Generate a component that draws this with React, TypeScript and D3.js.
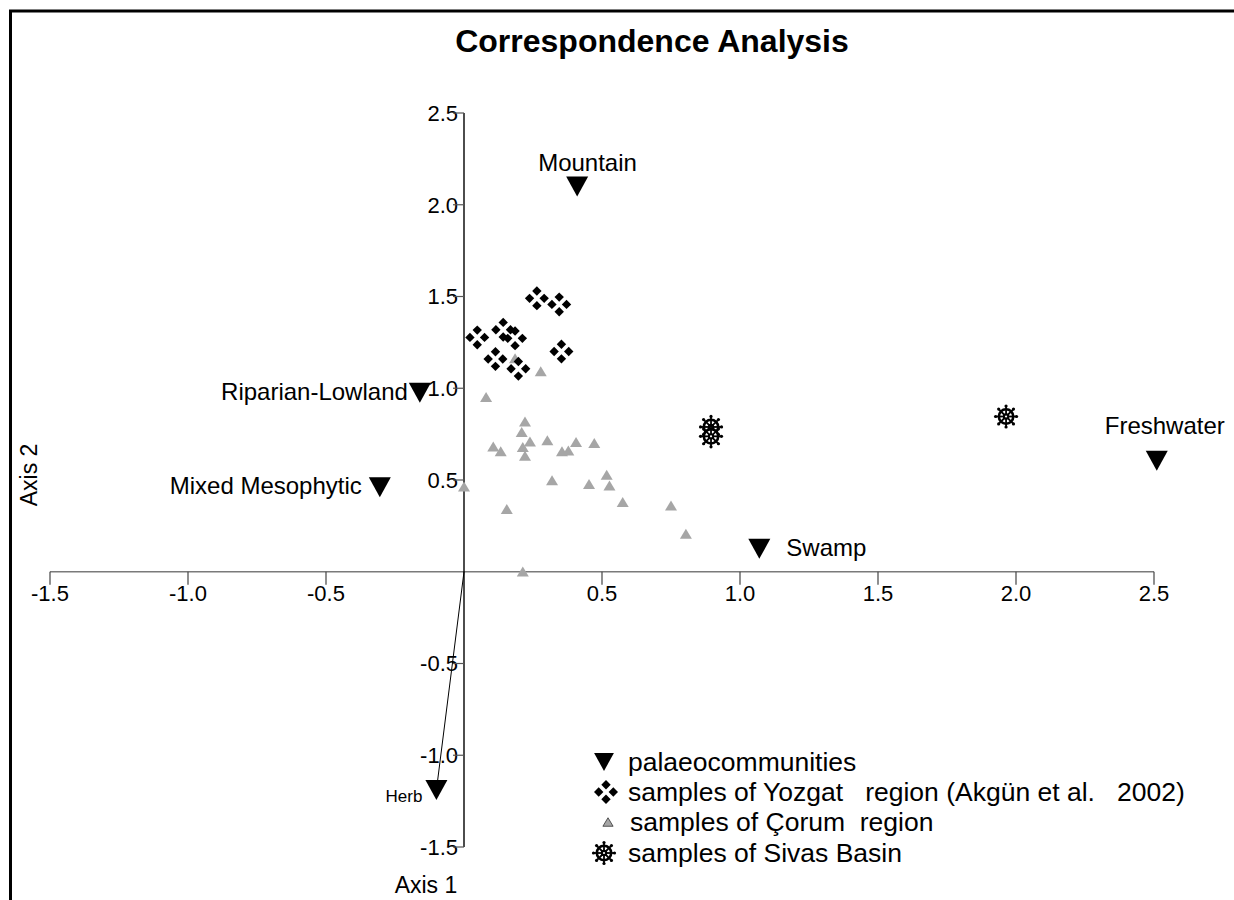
import React from "react";
import * as d3 from "d3";

// palaeocommunities (downward triangles)
const palaeoNames = ["Mountain", "Riparian-Lowland", "Mixed Mesophytic", "Swamp", "Freshwater", "Herb"];
const palaeoAxis1 = [0.41, -0.16, -0.305, 1.07, 2.51, -0.1];
const palaeoAxis2 = [2.1, 0.975, 0.46, 0.125, 0.605, -1.19];

// samples of Yozgat region
const yozgatAxis1 = [0.264, 0.345, 0.048, 0.142, 0.185, 0.114, 0.197, 0.353];
const yozgatAxis2 = [1.49, 1.457, 1.277, 1.319, 1.272, 1.159, 1.106, 1.2];

// samples of Çorum region
const corumAxis1 = [
  0.08, 0.221, 0.209, 0.106, 0.133, 0.213, 0.239, 0.221, 0.302, 0.355, 0.378, 0.406, 0.472,
  0.0, 0.319, 0.453, 0.517, 0.527, 0.155, 0.575, 0.75, 0.804, 0.213, 0.185, 0.278,
];
const corumAxis2 = [
  0.952, 0.819, 0.761, 0.683, 0.656, 0.68, 0.71, 0.632, 0.716, 0.656, 0.661, 0.707, 0.701,
  0.465, 0.498, 0.478, 0.529, 0.47, 0.342, 0.38, 0.361, 0.207, 0.002, 1.164, 1.092,
];

// samples of Sivas Basin
const sivasAxis1 = [0.895, 0.895, 1.964];
const sivasAxis2 = [0.789, 0.738, 0.846];

const tickValues = [-1.5, -1.0, -0.5, 0.5, 1.0, 1.5, 2.0, 2.5];
const legendLabels = [
  "palaeocommunities",
  "samples of Yozgat   region (Akgün et al.   2002)",
  "samples of Çorum  region",
  "samples of Sivas Basin",
];

// label placement for palaeocommunity names: [dx, dy, anchor, font size]
const labelPlace: [number, number, string, number][] = [
  [-39, -15, "start", 24],
  [-12, 7, "end", 24],
  [-18, 7, "end", 24],
  [27, 7, "start", 24],
  [8, -27, "middle", 24],
  [-14, 12, "end", 17],
];

const W = 1234;
const H = 900;
const font = "'Liberation Sans', Arial, sans-serif";

const x = d3.scaleLinear().domain([-1.5, 2.5]).range([50, 1154]);
const y = d3.scaleLinear().domain([-1.5, 2.5]).range([847, 113]);

const DownTri = ({ cx, cy, s = 1 }: { cx: number; cy: number; s?: number }) => (
  <path
    d={`M${cx - 11 * s},${cy - 10 * s}L${cx + 11 * s},${cy - 10 * s}L${cx},${cy + 10 * s}Z`}
    fill="#000"
  />
);

const Quad = ({ cx, cy }: { cx: number; cy: number }) => {
  const off = 7.3;
  const r = 4.7;
  const pts = [
    [0, -off],
    [-off, 0],
    [off, 0],
    [0, off],
  ];
  return (
    <g>
      {pts.map(([dx, dy], i) => (
        <path
          key={i}
          d={`M${cx + dx},${cy + dy - r}L${cx + dx + r},${cy + dy}L${cx + dx},${cy + dy + r}L${cx + dx - r},${cy + dy}Z`}
          fill="#000"
        />
      ))}
    </g>
  );
};

const UpTri = ({ cx, cy, s = 1, stroke = "none" }: { cx: number; cy: number; s?: number; stroke?: string }) => (
  <path
    d={`M${cx - 6 * s},${cy + 5 * s}L${cx + 6 * s},${cy + 5 * s}L${cx},${cy - 5 * s}Z`}
    fill="#a6a6a6"
    stroke={stroke}
    strokeWidth={0.8}
  />
);

const Wheel = ({ cx, cy }: { cx: number; cy: number }) => {
  const angles = d3.range(8).map((i) => (i * Math.PI) / 4);
  return (
    <g transform={`translate(${cx},${cy})`}>
      <circle r={7.2} fill="#fff" stroke="#000" strokeWidth={2.6} />
      {angles.map((a, i) => (
        <line key={i} x1={0} y1={0} x2={10.5 * Math.cos(a)} y2={10.5 * Math.sin(a)} stroke="#000" strokeWidth={1.8} />
      ))}
      {angles.map((a, i) => (
        <circle key={"k" + i} cx={10.5 * Math.cos(a)} cy={10.5 * Math.sin(a)} r={1.6} fill="#000" />
      ))}
      <circle r={3.2} fill="#000" />
      <circle r={1.1} fill="#fff" />
    </g>
  );
};

export default function App() {
  const x0 = x(0);
  const y0 = y(0);
  const legendY = [762, 792, 822, 853];
  return (
    <svg
      width={W}
      height={H}
      style={{ position: "absolute", left: 0, top: 0, background: "#fff" }}
      fontFamily={font}
    >
      <rect x={0} y={0} width={W} height={H} fill="#fff" />
      <rect x={10.5} y={11} width={W + 20} height={H + 20} fill="none" stroke="#000" strokeWidth={3} />

      <text x={652} y={52} textAnchor="middle" fontSize={32} fontWeight="bold">
        Correspondence Analysis
      </text>

      {/* horizontal axis */}
      <line x1={x(-1.5)} x2={x(2.5)} y1={y0} y2={y0} stroke="#7a7a7a" strokeWidth={1.5} />
      {tickValues.map((t) => (
        <g key={"xt" + t}>
          <line x1={x(t)} x2={x(t)} y1={y0} y2={y0 + 13} stroke="#444" strokeWidth={1.2} />
          <text x={x(t)} y={601} textAnchor="middle" fontSize={22}>
            {t.toFixed(1)}
          </text>
        </g>
      ))}

      {/* vertical axis */}
      <line x1={x0} x2={x0} y1={y(2.5)} y2={y(-1.5)} stroke="#000" strokeWidth={1.4} />
      {tickValues.map((t) => (
        <g key={"yt" + t}>
          <text x={458} y={y(t)} dy="0.36em" textAnchor="end" fontSize={22}>
            {t.toFixed(1)}
          </text>
          <line x1={x0 - 11} x2={x0} y1={y(t)} y2={y(t)} stroke="#555" strokeWidth={1.2} />
        </g>
      ))}

      <text x={426} y={893} textAnchor="middle" fontSize={23}>
        Axis 1
      </text>
      <text transform={`translate(37,475) rotate(-90)`} textAnchor="middle" fontSize={23}>
        Axis 2
      </text>

      {/* Herb arrow from origin */}
      <line x1={x0} y1={y0} x2={x(palaeoAxis1[5])} y2={y(palaeoAxis2[5])} stroke="#000" strokeWidth={1} />

      {corumAxis1.map((v, i) => (
        <UpTri key={"c" + i} cx={x(v)} cy={y(corumAxis2[i])} />
      ))}

      {yozgatAxis1.map((v, i) => (
        <Quad key={"y" + i} cx={x(v)} cy={y(yozgatAxis2[i])} />
      ))}

      {sivasAxis1.map((v, i) => (
        <Wheel key={"s" + i} cx={x(v)} cy={y(sivasAxis2[i])} />
      ))}

      {palaeoNames.map((name, i) => {
        const px = x(palaeoAxis1[i]);
        const py = y(palaeoAxis2[i]);
        const [dx, dy, anchor, fs] = labelPlace[i];
        return (
          <g key={name}>
            <DownTri cx={px} cy={py} />
            <text x={px + dx} y={py + dy} textAnchor={anchor as any} fontSize={fs}>
              {name}
            </text>
          </g>
        );
      })}

      {/* legend */}
      <DownTri cx={604} cy={legendY[0]} s={0.9} />
      <Quad cx={606} cy={legendY[1]} />
      <UpTri cx={608} cy={legendY[2]} s={0.85} stroke="#333" />
      <Wheel cx={604} cy={legendY[3]} />
      {legendLabels.map((l, i) => (
        <text key={l} x={i === 2 ? 630 : 628} y={legendY[i] + 9} fontSize={26.5} style={{ whiteSpace: "pre" }}>
          {l}
        </text>
      ))}
    </svg>
  );
}
